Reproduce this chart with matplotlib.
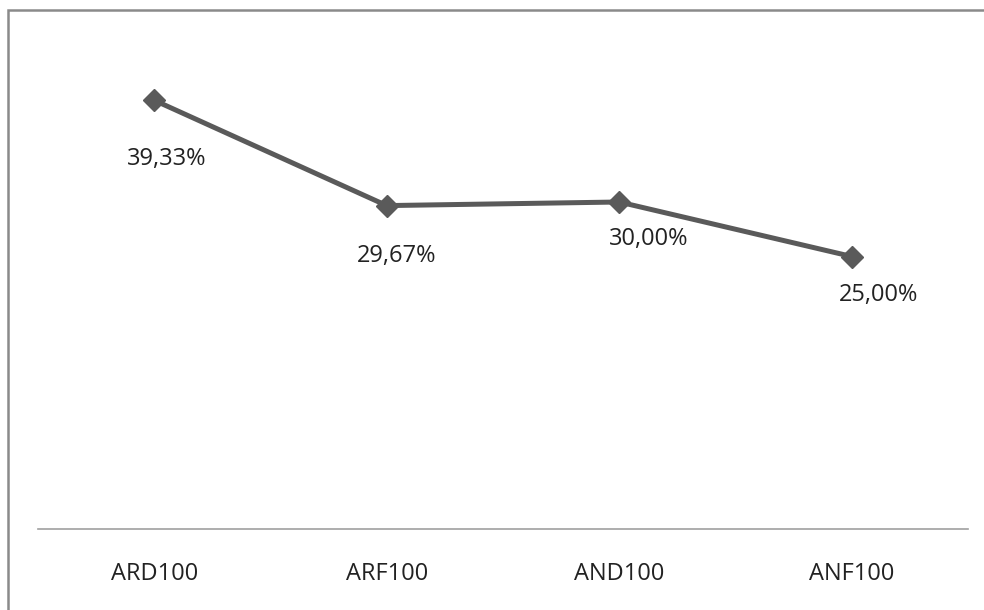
import matplotlib.pyplot as plt
from matplotlib.patches import Rectangle

categorias = ['ARD100', 'ARF100', 'AND100', 'ANF100']
valores = [39.33, 29.67, 30.00, 25.00]
rotulos = ['39,33%', '29,67%', '30,00%', '25,00%']
# deslocamento dos rótulos (pontos)
desloc = [(9, -42), (7, -36), (21, -27), (19, -28)]

plt.rcParams['font.family'] = ['Open Sans', 'DejaVu Sans']

fig = plt.figure(figsize=(9.84, 6.10), dpi=100)
ax = fig.add_axes([38 / 984, 81 / 610, 930 / 984, 490.5 / 610])

x = range(len(categorias))
ax.plot(x, valores, color='#5a5a5a', linewidth=3.6, marker='D', markersize=11.5,
        solid_capstyle='round')
for i, (v, r) in enumerate(zip(valores, rotulos)):
    ax.annotate(r, (i, v), xytext=desloc[i], textcoords='offset points',
                ha='center', va='center', fontsize=17, color='#222222')

ax.set_xlim(-0.5, 3.5)
ax.set_ylim(0, 45)
ax.set_xticks(list(x))
ax.set_xticklabels(categorias, fontsize=17, color='#222222')
ax.set_yticks([])
ax.tick_params(axis='x', length=0, pad=24)
for s in ['top', 'right', 'left']:
    ax.spines[s].set_visible(False)
ax.spines['bottom'].set_color('#a0a0a0')
ax.spines['bottom'].set_linewidth(1.2)

fig.patches.append(Rectangle((8 / 984, -0.1), 1.2, 1 - 10 / 610 + 0.1,
                             transform=fig.transFigure, fill=False,
                             edgecolor='#8a8a8a', linewidth=1.8))

fig.savefig('out.png', dpi=100)
